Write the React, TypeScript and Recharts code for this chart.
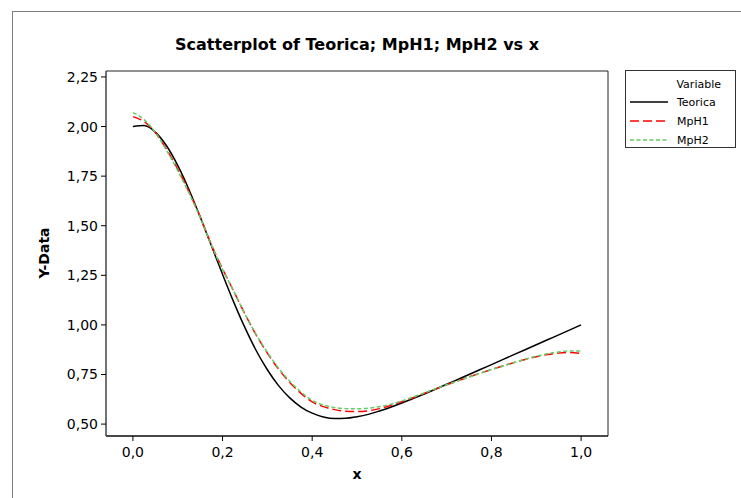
import React from 'react';
import { LineChart, Line, XAxis, YAxis, ReferenceArea } from 'recharts';

const xValues = [
  0, 0.025, 0.05, 0.075, 0.1, 0.125, 0.15, 0.175, 0.2, 0.225, 0.25, 0.275, 0.3, 0.325, 0.35, 0.375, 0.4,
  0.425, 0.45, 0.475, 0.5, 0.525, 0.55, 0.575, 0.6, 0.625, 0.65, 0.675, 0.7, 0.725, 0.75, 0.775, 0.8,
  0.825, 0.85, 0.875, 0.9, 0.925, 0.95, 0.975, 1.0,
];

const teorica = [
  2.0, 2.005, 1.972, 1.903, 1.804, 1.683, 1.545, 1.4, 1.255, 1.115, 0.986, 0.871, 0.774, 0.694, 0.632,
  0.586, 0.555, 0.536, 0.528, 0.529, 0.537, 0.549, 0.566, 0.585, 0.606, 0.629, 0.652, 0.676, 0.701,
  0.725, 0.75, 0.775, 0.8, 0.825, 0.85, 0.875, 0.9, 0.925, 0.95, 0.975, 1.0,
];

const mph1 = [
  2.05, 2.025, 1.97, 1.885, 1.785, 1.672, 1.545, 1.405, 1.282, 1.17, 1.055, 0.95, 0.858, 0.777, 0.71,
  0.655, 0.612, 0.588, 0.573, 0.565, 0.563, 0.567, 0.578, 0.594, 0.613, 0.633, 0.655, 0.677, 0.698,
  0.718, 0.738, 0.757, 0.775, 0.793, 0.81, 0.826, 0.84, 0.851, 0.858, 0.861, 0.855,
];

const mph2 = [
  2.07, 2.035, 1.97, 1.88, 1.778, 1.665, 1.542, 1.403, 1.28, 1.17, 1.055, 0.952, 0.862, 0.782, 0.716,
  0.662, 0.62, 0.596, 0.583, 0.578, 0.577, 0.58, 0.588, 0.6, 0.617, 0.636, 0.657, 0.678, 0.698,
  0.718, 0.737, 0.756, 0.775, 0.792, 0.81, 0.827, 0.842, 0.855, 0.864, 0.869, 0.868,
];

const xTicks = [0, 0.2, 0.4, 0.6, 0.8, 1.0];
const yTicks = [0.5, 0.75, 1.0, 1.25, 1.5, 1.75, 2.0, 2.25];

const seriesNames = ['Teorica', 'MpH1', 'MpH2'];

const data = xValues.map((x, i) => ({
  x,
  Teorica: teorica[i],
  MpH1: mph1[i],
  MpH2: mph2[i],
}));

const FONT = '"DejaVu Sans", Verdana, sans-serif';
const RED = '#ff0000';
const GREEN = '#66cc66';

export default function App() {
  return (
    <div
      style={{
        position: 'absolute',
        left: 0,
        top: 0,
        width: 741,
        height: 498,
        overflow: 'hidden',
        background: '#fff',
        fontFamily: FONT,
      }}
    >
      <div
        style={{
          position: 'absolute',
          left: 12,
          top: 11,
          width: 780,
          height: 540,
          border: '1px solid #808080',
        }}
      />
      <div style={{ position: 'absolute', left: 0, top: 0 }}>
        <LineChart
          width={741}
          height={498}
          data={data}
          margin={{ top: 71, right: 133, bottom: 32, left: 56 }}
        >
          <XAxis
            dataKey="x"
            type="number"
            domain={[-0.06, 1.06]}
            ticks={xTicks}
            allowDataOverflow
            height={30}
            tickSize={5}
            tickMargin={6}
            tick={{ fill: '#000', fontSize: 14, fontFamily: FONT }}
            tickLine={{ stroke: '#000' }}
            axisLine={{ stroke: '#000' }}
            tickFormatter={(v: number) => v.toFixed(1).replace('.', ',')}
          />
          <YAxis
            type="number"
            domain={[0.44, 2.28]}
            ticks={yTicks}
            allowDataOverflow
            width={50}
            tickSize={5}
            tickMargin={3}
            tick={{ fill: '#000', fontSize: 14, fontFamily: FONT }}
            tickLine={{ stroke: '#000' }}
            axisLine={{ stroke: '#555' }}
            tickFormatter={(v: number) => v.toFixed(2).replace('.', ',')}
          />
          <ReferenceArea
            x1={-0.06}
            x2={1.06}
            y1={0.44}
            y2={2.28}
            fill="none"
            fillOpacity={0}
            stroke="#222"
            strokeWidth={1}
            ifOverflow="visible"
          />
          <Line
            type="monotone"
            dataKey="Teorica"
            stroke="#000"
            strokeWidth={1.5}
            dot={false}
            isAnimationActive={false}
          />
          <Line
            type="monotone"
            dataKey="MpH1"
            stroke={RED}
            strokeWidth={1.5}
            strokeDasharray="9 4"
            dot={false}
            isAnimationActive={false}
          />
          <Line
            type="monotone"
            dataKey="MpH2"
            stroke={GREEN}
            strokeWidth={1.5}
            strokeDasharray="4 2.5"
            dot={false}
            isAnimationActive={false}
          />
        </LineChart>
      </div>

      <div
        style={{
          position: 'absolute',
          left: 357,
          top: 44,
          transform: 'translate(-50%, -50%)',
          whiteSpace: 'nowrap',
          fontWeight: 'bold',
          fontSize: 16,
          color: '#000',
        }}
      >
        Scatterplot of Teorica; MpH1; MpH2 vs x
      </div>

      <div
        style={{
          position: 'absolute',
          left: 44,
          top: 253,
          transform: 'translate(-50%, -50%) rotate(-90deg)',
          whiteSpace: 'nowrap',
          fontWeight: 'bold',
          fontSize: 14,
          color: '#000',
        }}
      >
        Y-Data
      </div>

      <div
        style={{
          position: 'absolute',
          left: 357,
          top: 474,
          transform: 'translate(-50%, -50%)',
          whiteSpace: 'nowrap',
          fontWeight: 'bold',
          fontSize: 14,
          color: '#000',
        }}
      >
        x
      </div>

      <svg
        width={113}
        height={80}
        style={{ position: 'absolute', left: 624, top: 69 }}
      >
        <rect x={1.5} y={1.5} width={110} height={77} fill="#fff" stroke="#333" strokeWidth={1} />
        <text x={97} y={19} textAnchor="end" fontSize={11} fontFamily={FONT} fill="#000">
          Variable
        </text>
        {seriesNames.map((name, i) => {
          const y = 33 + i * 19;
          const stroke = i === 0 ? '#000' : i === 1 ? RED : GREEN;
          const dash = i === 0 ? undefined : i === 1 ? '9 4' : '4 2.5';
          return (
            <g key={name}>
              <line x1={6} x2={44} y1={y} y2={y} stroke={stroke} strokeWidth={1.5} strokeDasharray={dash} />
              <text x={53} y={y + 4} fontSize={11} fontFamily={FONT} fill="#000">
                {name}
              </text>
            </g>
          );
        })}
      </svg>
    </div>
  );
}
